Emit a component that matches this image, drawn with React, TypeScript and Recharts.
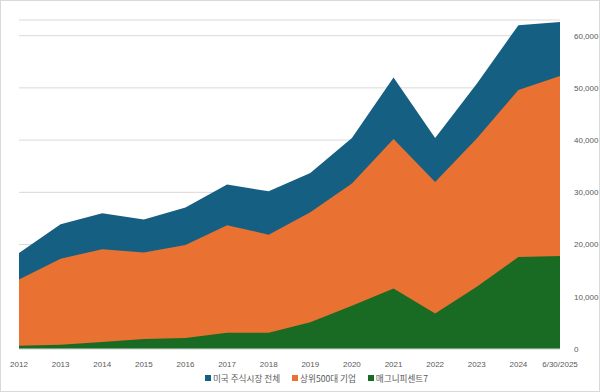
import React from "react";
import { AreaChart, Area, XAxis, YAxis, CartesianGrid, Legend } from "recharts";

const categories = ["2012", "2013", "2014", "2015", "2016", "2017", "2018", "2019", "2020", "2021", "2022", "2023", "2024", "6/30/2025"];
const totalMarket = [18400, 23900, 26000, 24800, 27100, 31500, 30200, 33700, 40400, 52000, 40400, 50800, 62000, 62600];
const top500 = [13300, 17300, 19100, 18500, 19900, 23700, 21900, 26200, 31700, 40200, 32000, 40300, 49600, 52300];
const mag7 = [600, 800, 1350, 1900, 2100, 3100, 3100, 5100, 8300, 11600, 6800, 11900, 17600, 17800];
const yTicks = [0, 10000, 20000, 30000, 40000, 50000, 60000];
const seriesNames = ["미국 주식시장 전체", "상위500대 기업", "매그니피센트7"];
const seriesColors = ["#156082", "#E97132", "#196B24"];

const data = categories.map((c, i) => ({
  name: c,
  total: totalMarket[i],
  top500: top500[i],
  mag7: mag7[i],
}));

const numFont = "'Liberation Sans', Arial, sans-serif";
const krFont = "'Noto Sans CJK KR', 'Noto Sans', sans-serif";

const LegendContent = () => (
  <div
    style={{
      display: "flex",
      justifyContent: "center",
      alignItems: "center",
      gap: 12,
      fontSize: 8.6,
      lineHeight: "14px",
      height: 14,
      color: "#595959",
      fontFamily: krFont,
      paddingLeft: 14,
    }}
  >
    {seriesNames.map((n, i) => (
      <span key={n} style={{ display: "flex", alignItems: "center" }}>
        <span
          style={{
            display: "inline-block",
            width: 6,
            height: 6,
            background: seriesColors[i],
            marginRight: 2,
          }}
        />
        {n}
      </span>
    ))}
  </div>
);

export default function App() {
  return (
    <div
      style={{
        position: "absolute",
        left: 0,
        top: 0,
        width: 600,
        height: 392,
        boxSizing: "border-box",
        border: "1px solid #d9d9d9",
        background: "#fff",
      }}
    >
      <div style={{ position: "absolute", left: -1, top: -1 }}>
        <AreaChart
          width={600}
          height={392}
          data={data}
          margin={{ top: 20, right: 0, left: 19, bottom: 7 }}
        >
          <CartesianGrid vertical={false} stroke="#d9d9d9" />
          <XAxis
            dataKey="name"
            tickLine={false}
            axisLine={{ stroke: "#d9d9d9" }}
            tick={{ fontSize: 8, fill: "#595959", fontFamily: numFont }}
            tickMargin={6}
            height={22}
            interval={0}
          />
          <YAxis
            orientation="right"
            domain={[0, 63000]}
            ticks={yTicks}
            allowDataOverflow
            tickLine={false}
            axisLine={false}
            width={40}
            tickMargin={8}
            tick={{ fontSize: 8, fill: "#595959", fontFamily: numFont }}
            tickFormatter={(v: number) => v.toLocaleString("en-US")}
          />
          <Legend verticalAlign="bottom" content={<LegendContent />} />
          <Area
            type="linear"
            dataKey="total"
            name={seriesNames[0]}
            fill={seriesColors[0]}
            stroke="none"
            fillOpacity={1}
            isAnimationActive={false}
          />
          <Area
            type="linear"
            dataKey="top500"
            name={seriesNames[1]}
            fill={seriesColors[1]}
            stroke="none"
            fillOpacity={1}
            isAnimationActive={false}
          />
          <Area
            type="linear"
            dataKey="mag7"
            name={seriesNames[2]}
            fill={seriesColors[2]}
            stroke="none"
            fillOpacity={1}
            isAnimationActive={false}
          />
        </AreaChart>
      </div>
    </div>
  );
}
